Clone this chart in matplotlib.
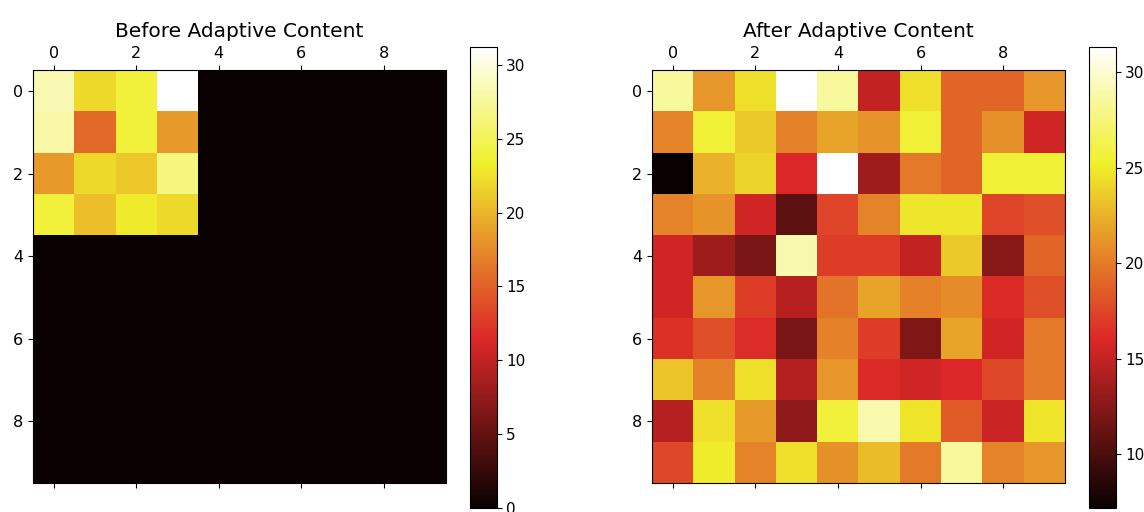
import matplotlib
matplotlib.use('Agg')
import matplotlib.pyplot as plt
import matplotlib.colors as mcolors
import numpy as np

# values (10x10 grids)
before_block = [
    [28.5, 22.0, 24.0, 31.2],
    [28.0, 15.5, 24.0, 18.5],
    [18.5, 22.0, 21.0, 26.5],
    [24.0, 20.5, 23.0, 22.0],
]

after_vals = [
    [28.5, 21.3, 24.5, 31.3, 28.5, 15.0, 24.5, 19.0, 19.0, 21.3],
    [20.4, 25.5, 23.5, 20.3, 21.8, 21.2, 25.5, 19.0, 21.0, 15.5],
    [7.2, 22.5, 24.0, 16.0, 31.3, 13.5, 20.0, 19.0, 25.5, 25.5],
    [20.4, 21.2, 15.5, 10.7, 17.5, 20.4, 24.8, 24.8, 17.5, 18.0],
    [15.5, 13.5, 12.0, 29.0, 17.0, 17.0, 15.0, 23.5, 12.5, 19.0],
    [15.5, 21.3, 17.0, 14.5, 19.7, 21.8, 20.3, 20.8, 16.2, 18.0],
    [16.5, 18.0, 16.3, 12.0, 20.3, 17.0, 12.2, 21.8, 15.5, 20.0],
    [23.3, 20.3, 24.5, 14.3, 21.3, 16.2, 15.5, 16.0, 17.6, 20.0],
    [14.5, 24.5, 21.5, 12.8, 25.7, 29.0, 24.7, 18.5, 15.3, 24.7],
    [17.6, 25.0, 20.4, 24.5, 21.0, 23.0, 20.0, 28.5, 20.4, 21.3],
]

before = np.zeros((10, 10))
before[:4, :4] = before_block
after = np.array(after_vals)

# 'hot' but a bit washed out, like the screenshot
base = plt.cm.hot(np.linspace(0, 1, 256))[:, :3]
hsv = mcolors.rgb_to_hsv(base)
s0 = hsv[:, 1].copy()
g = base[:, 1]
hsv[:, 1] *= 0.82
hsv[:, 2] *= 1 - s0 * (0.06 + 0.08 * (1 - g))
cmap = mcolors.ListedColormap(mcolors.hsv_to_rgb(hsv))

fig = plt.figure(figsize=(11.44, 5.12), dpi=100)

ax1 = fig.add_axes([0.0288, 0.0547, 0.361, 0.809])
cax1 = fig.add_axes([0.411, 0.0078, 0.0236, 0.900])
ax2 = fig.add_axes([0.570, 0.0547, 0.361, 0.809])
cax2 = fig.add_axes([0.952, 0.0078, 0.0236, 0.900])

for ax, cax, data, title in [(ax1, cax1, before, 'Before Adaptive Content'),
                             (ax2, cax2, after, 'After Adaptive Content')]:
    im = ax.matshow(data, cmap=cmap)
    ax.set_title(title, fontsize=14.5)
    ax.tick_params(labelsize=11.5)
    cb = fig.colorbar(im, cax=cax)
    cb.ax.tick_params(labelsize=11, pad=3)

fig.savefig('out.png', dpi=100)
